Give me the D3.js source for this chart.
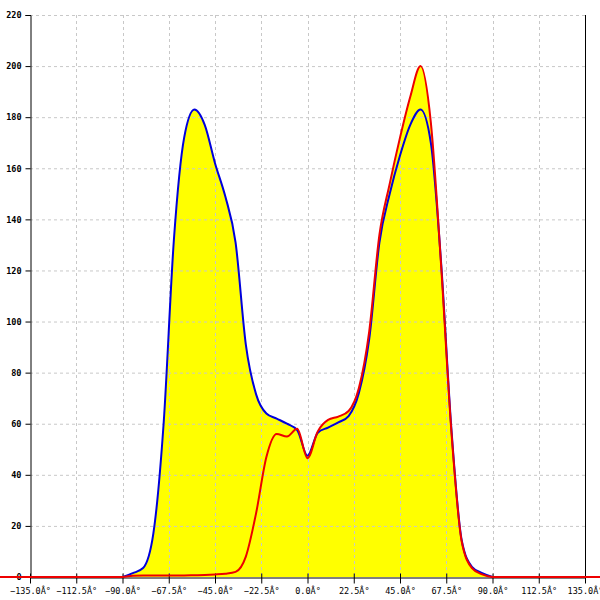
<!DOCTYPE html>
<html><head><meta charset="utf-8">
<script src="https://cdn.jsdelivr.net/npm/d3@7"></script>
<style>body{margin:0;background:#fff}svg{display:block}</style>
</head><body>
<svg id="c" width="600" height="600"></svg>
<script>
const angles = [-90,-85,-80,-75,-70,-65,-60,-55,-50,-45,-40,-35,-30,-25,-20,-15,-10,-5,0,5,10,15,20,25,30,35,40,45,50,55,60,65,70,75,80,85,90];
const blueValues = [0,1.5,3.5,17,60,132,172,183,177,162,149,131,91,71.5,64,62,60,57.5,47.5,56.5,58.5,60.5,63,72,93,131,150,165,177,183,170,123,58,14.5,4,1.5,0];
const redAngles = [-180,-135,-90,-85,-80,-75,-70,-65,-60,-55,-50,-45,-40,-35,-30,-25,-20,-15,-10,-5,0,5,10,15,20,25,30,35,40,45,50,55,60,65,70,75,80,85,90,135,180];
const redValues = [0,0,0,0.5,0.6,0.6,0.6,0.6,0.6,0.7,0.8,1,1.3,2,8,25,47,56,55,58,46.5,57,61.5,62.8,65,74,96,134,154,172,188,200,178,122,57,14,3.5,1,0,0,0];
const xTicks = [-135,-112.5,-90,-67.5,-45,-22.5,0,22.5,45,67.5,90,112.5,135];
const yTicks = [0,20,40,60,80,100,120,140,160,180,200,220];

const svg = d3.select("#c");
const x = d3.scaleLinear().domain([-135,135]).range([30,585]);
const y = d3.scaleLinear().domain([0,220]).range([577,15]);

const blue = angles.map((a,i)=>({a, v: blueValues[i]}));
const red = redAngles.map((a,i)=>({a, v: redValues[i]}));

const area = d3.area().x(d=>x(d.a)).y0(y(0)).y1(d=>y(d.v)).curve(d3.curveMonotoneX);
const line = d3.line().x(d=>x(d.a)).y(d=>y(d.v)).curve(d3.curveMonotoneX);

svg.append("path").datum(blue).attr("d", area).attr("fill", "#ffff00");
svg.append("path").datum(red).attr("d", area).attr("fill", "#ffff00");

// grid
const g = svg.append("g");
g.selectAll("line.h").data(yTicks.filter(t=>t>0)).join("line")
  .attr("x1", 30).attr("x2", 585).attr("y1", d=>y(d)+0.5).attr("y2", d=>y(d)+0.5)
  .attr("stroke", "#c8c8c8").attr("stroke-dasharray", "3,3");
g.selectAll("line.v").data(xTicks.filter(t=>t>-135 && t<135)).join("line")
  .attr("x1", d=>Math.round(x(d))+0.5).attr("x2", d=>Math.round(x(d))+0.5).attr("y1", 15).attr("y2", 577)
  .attr("stroke", "#c8c8c8").attr("stroke-dasharray", "3,3");

// axes
const yAxis = d3.axisLeft(y).tickValues(yTicks).tickSize(5).tickFormat(d=>String(d));
const ya = svg.append("g").attr("transform", "translate(30.5,0)").call(yAxis);
ya.select(".domain").attr("stroke", "#000");
ya.selectAll("text").attr("font-family", "DejaVu Sans Mono").attr("font-size", "8.5px").attr("font-weight", "bold").attr("x", -9);

svg.append("line").attr("x1", 585.5).attr("x2", 585.5).attr("y1", 15).attr("y2", 577).attr("stroke", "#000");

const xAxis = d3.axisBottom(x).tickValues(xTicks).tickSizeInner(6).tickSizeOuter(0)
  .tickFormat(d=>d3.format(".1f")(d)+"Â°");
const xa = svg.append("g").attr("transform", "translate(0,577.5)").call(xAxis);
xa.select(".domain").attr("stroke", "#000");
xa.selectAll(".tick line").attr("y1", -4);
xa.selectAll("text").attr("font-family", "DejaVu Sans Mono").attr("font-size", "8.5px").attr("y", 10);

// series lines
svg.append("path").datum(blue).attr("d", line).attr("fill", "none").attr("stroke", "#0000dd").attr("stroke-width", 2);
svg.append("path").datum(red).attr("d", line).attr("fill", "none").attr("stroke", "#ee0000").attr("stroke-width", 2);
</script>
</body></html>
